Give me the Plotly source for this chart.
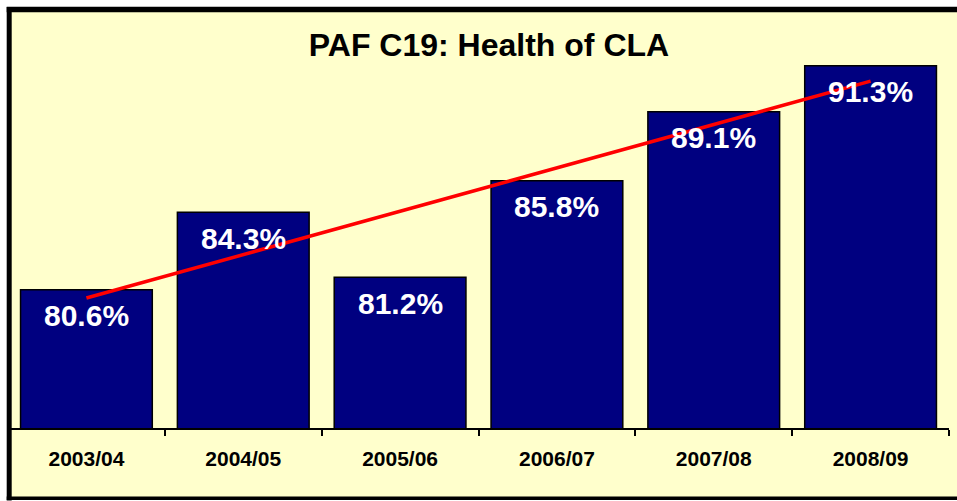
import numpy as np
import plotly.graph_objects as go

categories = ["2003/04", "2004/05", "2005/06", "2006/07", "2007/08", "2008/09"]
values = [80.6, 84.3, 81.2, 85.8, 89.1, 91.3]
value_labels = ["80.6%", "84.3%", "81.2%", "85.8%", "89.1%", "91.3%"]
title_text = "PAF C19: Health of CLA"

W, H = 957, 501
ML, MR, MT, MB = 8, 8, 51, 73
FONT = "Liberation Sans, Arial, sans-serif"

# linear trendline fitted to the series
xi = np.arange(1, len(values) + 1)
slope, intercept = np.polyfit(xi, values, 1)
trend = slope * xi + intercept

fig = go.Figure()
fig.add_trace(go.Bar(
    x=categories, y=values,
    marker=dict(color="#000080", line=dict(color="#000000", width=1.5)),
    hoverinfo="skip", showlegend=False,
))
fig.add_trace(go.Scatter(
    x=[categories[0], categories[-1]], y=[trend[0], trend[-1]],
    mode="lines", line=dict(color="#FF0000", width=3.5),
    hoverinfo="skip", showlegend=False,
))

annotations = []
for c, v, t in zip(categories, values, value_labels):
    annotations.append(dict(
        x=c, y=v, xref="x", yref="y", text=t, showarrow=False,
        yanchor="middle", yshift=-26,
        font=dict(family=FONT, size=30, color="white", weight="bold"),
    ))

pw = W - ML - MR
ph = H - MT - MB
def px_x(p):
    return (p - ML) / pw
def px_y(p):
    return (H - MB - p) / ph

fig.update_layout(
    width=W, height=H,
    margin=dict(l=ML, r=MR, t=MT, b=MB, pad=0),
    paper_bgcolor="white",
    plot_bgcolor="rgba(0,0,0,0)",
    bargap=0.16,
    title=dict(
        text=title_text, x=489 / W, xanchor="center",
        y=1 - 45 / H, yanchor="middle", yref="container",
        font=dict(family=FONT, size=32, color="black", weight="bold"),
    ),
    xaxis=dict(
        type="category",
        showline=True, linecolor="black", linewidth=1.5,
        ticks="outside", tickson="boundaries", ticklen=6, tickcolor="black", tickwidth=1.5,
        tickfont=dict(family=FONT, size=21, color="black", weight="bold"),
        ticklabelstandoff=11,
        showgrid=False, zeroline=False,
    ),
    yaxis=dict(
        range=[74, 92], visible=False, showgrid=False, zeroline=False,
    ),
    shapes=[
        dict(type="rect", xref="paper", yref="paper",
             x0=px_x(9.2), x1=px_x(W + 10), y0=px_y(9.5), y1=px_y(498.3),
             fillcolor="#FFFFCC", line=dict(width=0), layer="below"),
        # frame: top, left, bottom (the right edge lies outside the picture)
        dict(type="line", xref="paper", yref="paper",
             x0=px_x(6.7), x1=px_x(W + 10), y0=px_y(9.5), y1=px_y(9.5),
             line=dict(color="black", width=5.5), layer="below"),
        dict(type="line", xref="paper", yref="paper",
             x0=px_x(9.2), x1=px_x(9.2), y0=px_y(7), y1=px_y(500.5),
             line=dict(color="black", width=5), layer="below"),
        dict(type="line", xref="paper", yref="paper",
             x0=px_x(6.7), x1=px_x(W + 10), y0=px_y(498.3), y1=px_y(498.3),
             line=dict(color="black", width=3.5), layer="below"),
    ],
    annotations=annotations,
)

fig.write_html(
    "out.html",
    config={"displayModeBar": False},
    post_script="document.body.style.margin='0';document.body.style.overflow='hidden';",
)
